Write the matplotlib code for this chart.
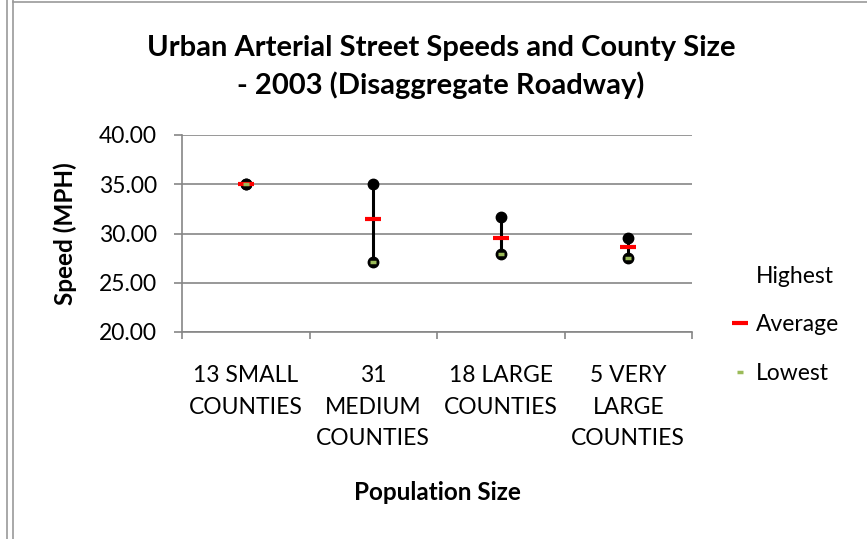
import matplotlib
matplotlib.use("Agg")
import matplotlib.pyplot as plt
from matplotlib.lines import Line2D

plt.rcParams['font.family'] = ['Lato', 'DejaVu Sans']

categories = ["13 SMALL\nCOUNTIES", "31\nMEDIUM\nCOUNTIES", "18 LARGE\nCOUNTIES", "5 VERY\nLARGE\nCOUNTIES"]
highest = [35.0, 35.0, 31.7, 29.5]
average = [35.0, 31.5, 29.5, 28.6]
lowest = [35.0, 27.1, 27.9, 27.5]
y_ticks = [20, 25, 30, 35, 40]

grid_color = "#868686"
green = "#9BBB59"
fs = 16.5

fig = plt.figure(figsize=(8.67, 5.39), dpi=100)
ax = fig.add_axes([182 / 867, 1 - 332 / 539, 510 / 867, 197 / 539])

x = list(range(len(categories)))

# high-low lines
ax.vlines(x, lowest, highest, colors="black", linewidth=2.2, zorder=3)
ax.plot(x, highest, linestyle="none", marker="o", markersize=7.5,
        color="black", zorder=4)
ax.plot(x, lowest, linestyle="none", marker="o", markersize=7.5,
        color="black", zorder=4)
ax.plot(x, average, linestyle="none", marker="_", markersize=11,
        markeredgewidth=3, color="#FF0000", zorder=5)
ax.plot(x, lowest, linestyle="none", marker="_", markersize=5,
        markeredgewidth=2.5, color=green, zorder=6)

ax.set_xlim(-0.5, len(categories) - 0.5)
ax.set_ylim(20, 40)
ax.set_yticks(y_ticks)
ax.set_yticklabels([f"{v:.2f}" for v in y_ticks], fontsize=fs)
ax.yaxis.grid(True, color=grid_color, linewidth=1.2)
ax.set_axisbelow(True)

ax.set_xticks(x)
ax.set_xticklabels(categories, fontsize=fs, linespacing=1.6)
ax.set_xticks([i - 0.5 for i in range(len(categories) + 1)], minor=True)
ax.tick_params(axis="x", which="major", length=0, pad=24)
ax.tick_params(axis="x", which="minor", length=5, color=grid_color, width=1.2)
ax.tick_params(axis="y", which="major", length=6, color=grid_color, width=1.2,
               direction="out", pad=12)

for side in ("top", "right"):
    ax.spines[side].set_visible(False)
for side in ("left", "bottom"):
    ax.spines[side].set_color(grid_color)
    ax.spines[side].set_linewidth(1.2)

ax.set_ylabel("Speed (MPH)", fontsize=17.5, fontweight="bold", labelpad=16)
ax.set_xlabel("Population Size", fontsize=17.5, fontweight="bold", labelpad=23)

fig.text(441 / 867, 1 - 67 / 539,
         "Urban Arterial Street Speeds and County Size\n- 2003 (Disaggregate Roadway)",
         ha="center", va="center", fontsize=21, fontweight="bold", linespacing=1.45)

handles = [
    Line2D([], [], linestyle="none"),
    Line2D([], [], linestyle="none", marker="_", markersize=11,
           markeredgewidth=3, color="#FF0000"),
    Line2D([], [], linestyle="none", marker="_", markersize=4,
           markeredgewidth=2.5, color=green),
]
fig.legend(handles, ["Highest", "Average", "Lowest"],
           loc="center left", bbox_to_anchor=(730 / 867, 1 - 325 / 539),
           frameon=False, fontsize=fs, handlelength=0.9, handletextpad=0.25,
           labelspacing=1.18, borderaxespad=0, borderpad=0)

# page border lines around the chart area
for xp in (6.5, 12.5):
    fig.add_artist(Line2D([xp / 867, xp / 867], [0, 1], color="#9a9a9a",
                          linewidth=1.2, transform=fig.transFigure))
fig.add_artist(Line2D([12.5 / 867, 1], [1 - 1.5 / 539, 1 - 1.5 / 539],
                      color="#9a9a9a", linewidth=1.2, transform=fig.transFigure))

fig.savefig("out.png", dpi=100)
